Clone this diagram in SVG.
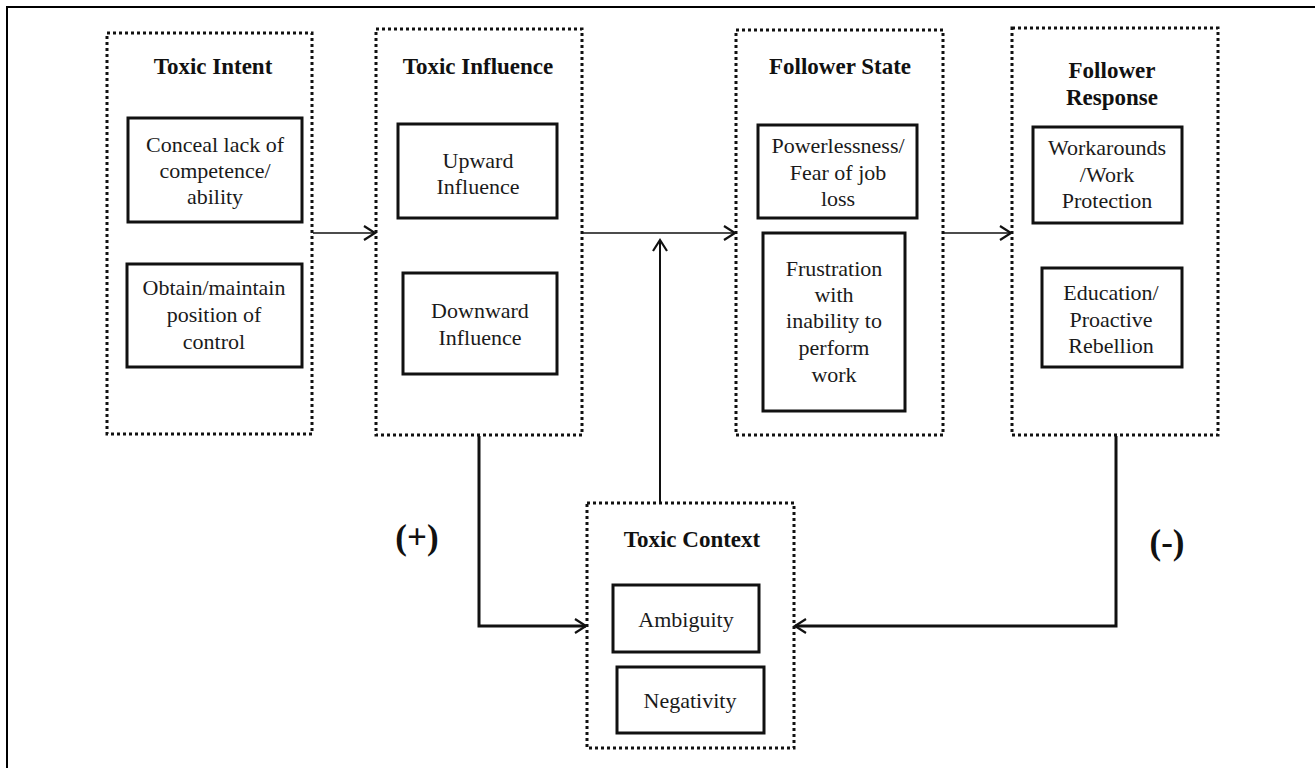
<svg xmlns="http://www.w3.org/2000/svg" width="1315" height="768" viewBox="0 0 1315 768">
<style>
.frame{fill:none;stroke:#000;stroke-width:2}
.dot{fill:none;stroke:#111;stroke-width:3;stroke-dasharray:3 3}
.box{fill:#fff;stroke:#111;stroke-width:3}
.t{font-family:"Liberation Serif","Times New Roman",serif;font-size:22px;fill:#1a1a1a;text-anchor:middle}
.h{font-family:"Liberation Serif","Times New Roman",serif;font-size:23px;font-weight:bold;fill:#111;text-anchor:middle}
.s{font-family:"Liberation Serif","Times New Roman",serif;font-size:35px;font-weight:bold;fill:#111;text-anchor:middle}
.c1{fill:none;stroke:#111;stroke-width:1.6}
.c2{fill:none;stroke:#111;stroke-width:3}
</style>
<defs>
<marker id="arr" markerUnits="userSpaceOnUse" markerWidth="16" markerHeight="18" refX="13" refY="9" orient="auto" viewBox="0 0 16 18">
<path d="M2,2 L13,9 L2,16" fill="none" stroke="#111" stroke-width="2.2"/>
</marker>
</defs>
<rect width="1315" height="768" fill="#fff"/>
<path class="frame" d="M7,780 V7 H1330"/>

<g id="toxic-intent">
<rect class="dot" x="107" y="33" width="205" height="401"/>
<text class="h" x="213" y="74">Toxic Intent</text>
<rect class="box" x="128" y="118" width="174" height="104"/>
<text class="t" x="215" y="152">Conceal lack of</text>
<text class="t" x="215" y="178">competence/</text>
<text class="t" x="215" y="204">ability</text>
<rect class="box" x="127" y="264" width="175" height="103"/>
<text class="t" x="214" y="295">Obtain/maintain</text>
<text class="t" x="214" y="322">position of</text>
<text class="t" x="214" y="349">control</text>
</g>

<g id="toxic-influence">
<rect class="dot" x="376" y="29" width="206" height="406"/>
<text class="h" x="478" y="74">Toxic Influence</text>
<rect class="box" x="398" y="124" width="159" height="94"/>
<text class="t" x="478" y="168">Upward</text>
<text class="t" x="478" y="194">Influence</text>
<rect class="box" x="403" y="273" width="154" height="101"/>
<text class="t" x="480" y="318">Downward</text>
<text class="t" x="480" y="345">Influence</text>
</g>

<g id="follower-state">
<rect class="dot" x="736" y="30" width="207" height="405"/>
<text class="h" x="840" y="74">Follower State</text>
<rect class="box" x="758" y="125" width="159" height="93"/>
<text class="t" x="838" y="153">Powerlessness/</text>
<text class="t" x="838" y="180">Fear of job</text>
<text class="t" x="838" y="206">loss</text>
<rect class="box" x="763" y="233" width="142" height="178"/>
<text class="t" x="834" y="276">Frustration</text>
<text class="t" x="834" y="302">with</text>
<text class="t" x="834" y="328">inability to</text>
<text class="t" x="834" y="355">perform</text>
<text class="t" x="834" y="382">work</text>
</g>

<g id="follower-response">
<rect class="dot" x="1012" y="28" width="206" height="407"/>
<text class="h" x="1112" y="78">Follower</text>
<text class="h" x="1112" y="105">Response</text>
<rect class="box" x="1033" y="127" width="149" height="96"/>
<text class="t" x="1107" y="155">Workarounds</text>
<text class="t" x="1107" y="182">/Work</text>
<text class="t" x="1107" y="208">Protection</text>
<rect class="box" x="1042" y="268" width="140" height="99"/>
<text class="t" x="1111" y="300">Education/</text>
<text class="t" x="1111" y="327">Proactive</text>
<text class="t" x="1111" y="353">Rebellion</text>
</g>

<g id="toxic-context">
<rect class="dot" x="587" y="503" width="207" height="245"/>
<text class="h" x="692" y="547">Toxic Context</text>
<rect class="box" x="613" y="585" width="146" height="67"/>
<text class="t" x="686" y="627">Ambiguity</text>
<rect class="box" x="617" y="667" width="147" height="66"/>
<text class="t" x="690" y="708">Negativity</text>
</g>

<g id="connectors">
<path class="c1" d="M313,233 H375" marker-end="url(#arr)"/>
<path class="c1" d="M582,233 H735" marker-end="url(#arr)"/>
<path class="c1" d="M943,233 H1011" marker-end="url(#arr)"/>
<path class="c1" style="stroke-width:2" d="M660,503 V240" marker-end="url(#arr)"/>
<path class="c2" d="M479,436 V626 H586" marker-end="url(#arr)"/>
<path class="c2" d="M1116,436 V626 H795" marker-end="url(#arr)"/>
</g>

<text class="s" x="417" y="549">(+)</text>
<text class="s" x="1167" y="554">(-)</text>
</svg>
